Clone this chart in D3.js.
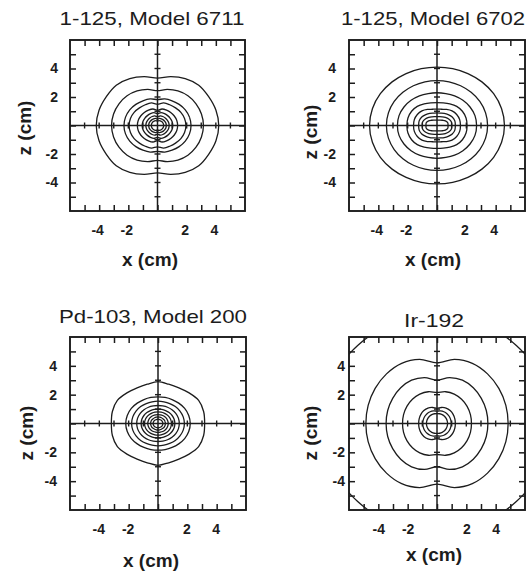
<!DOCTYPE html>
<html>
<head>
<meta charset="utf-8">
<script src="https://cdn.jsdelivr.net/npm/d3@7"></script>
<style>
body { margin: 0; background: #fff; }
svg { display: block; }
text { font-family: "Liberation Sans", Arial, Helvetica, sans-serif; fill: #1c1c1c; }
</style>
</head>
<body>
<div id="chart"></div>
<script>
// the other quadrants are mirrored
var angles = [0, 15, 30, 45, 60, 75, 90];

var titles = ["1-125, Model 6711", "1-125, Model 6702", "Pd-103, Model 200", "Ir-192"];
var tickValues = [-4, -2, 2, 4];
var gridValues = [-5, -4, -3, -2, -1, 0, 1, 2, 3, 4, 5];

// isodose contour radii (cm), one row per contour
var model6711 = [
	[4.2, 4.15, 4.05, 4.0, 3.8, 3.55, 3.33],
	[3.15, 3.12, 3.05, 2.95, 2.8, 2.62, 2.45],
	[2.3, 2.27, 2.2, 2.1, 2.0, 1.93, 1.82],
	[1.95, 1.92, 1.85, 1.75, 1.68, 1.64, 1.5],
	[1.38, 1.37, 1.33, 1.28, 1.24, 1.2, 1.06],
	[1.05, 1.04, 1.01, 0.98, 0.96, 0.93, 0.83],
	[0.8, 0.79, 0.77, 0.75, 0.73, 0.7, 0.6],
	[0.6, 0.6, 0.58, 0.56, 0.54, 0.52, 0.44],
	[0.42, 0.42, 0.41, 0.39, 0.38, 0.36, 0.3]
];
var model6702 = [
	[4.6, 4.56, 4.46, 4.33, 4.21, 4.13, 4.1],
	[3.45, 3.43, 3.37, 3.29, 3.22, 3.17, 3.15],
	[2.7, 2.68, 2.6, 2.5, 2.4, 2.32, 2.3],
	[2.05, 2.05, 2.0, 1.9, 1.75, 1.64, 1.6],
	[1.6, 1.6, 1.55, 1.45, 1.3, 1.18, 1.15],
	[1.25, 1.26, 1.2, 1.08, 0.98, 0.9, 0.88],
	[1.0, 1.01, 0.92, 0.8, 0.7, 0.64, 0.62],
	[0.75, 0.76, 0.66, 0.52, 0.44, 0.39, 0.38]
];
var pd103 = [
	[3.18, 3.22, 3.2, 3.0, 2.85, 2.82, 2.9],
	[2.2, 2.17, 2.1, 2.0, 1.92, 1.87, 1.85],
	[1.8, 1.78, 1.73, 1.67, 1.6, 1.56, 1.55],
	[1.45, 1.44, 1.4, 1.35, 1.3, 1.26, 1.25],
	[1.15, 1.14, 1.11, 1.07, 1.03, 1.01, 1.0],
	[0.92, 0.91, 0.89, 0.86, 0.83, 0.81, 0.8],
	[0.7, 0.69, 0.68, 0.66, 0.64, 0.62, 0.62],
	[0.5, 0.5, 0.49, 0.47, 0.46, 0.45, 0.45],
	[0.33, 0.33, 0.32, 0.31, 0.3, 0.3, 0.3]
];
var ir192 = [
	[7.8, 7.8, 7.75, 7.65, 7.6, 7.55, 7.4],
	[4.85, 4.86, 4.87, 4.87, 4.82, 4.6, 4.2],
	[3.47, 3.48, 3.49, 3.5, 3.47, 3.3, 3.0],
	[2.35, 2.36, 2.37, 2.37, 2.35, 2.28, 2.15],
	[1.25, 1.26, 1.27, 1.27, 1.24, 1.15, 1.05],
	[0.97, 0.97, 0.97, 0.96, 0.94, 0.9, 0.86],
	[0.72, 0.72, 0.72, 0.72, 0.71, 0.7, 0.69]
];

var contours = [model6711, model6702, pd103, ir192];

// where each panel sits on the page
var layout = [
	{x0: 70, x1: 245, y0: 40, y1: 211, titleX: 152, titleY: 25, titleW: 185, labX: 150, labY: 266, zX: 24, zY: 128, gap: 12, dx: -2},
	{x0: 349, x1: 525, y0: 40, y1: 211, titleX: 433, titleY: 25, titleW: 184, labX: 433, labY: 266, zX: 310, zY: 132, gap: 13, dx: -2},
	{x0: 70, x1: 246, y0: 337, y1: 510, titleX: 153, titleY: 323, titleW: 188, labX: 151, labY: 567, zX: 26, zY: 433, gap: 13, dx: -1},
	{x0: 349, x1: 525, y0: 337, y1: 510, titleX: 434, titleY: 327, titleW: 60, labX: 434, labY: 561, zX: 310, zY: 433, gap: 4, dx: 0}
];

var ink = "#1c1c1c";

var svg = d3.select("#chart").append("svg")
	.attr("width", 531).attr("height", 578);

function contourPoints(r) {
	var pts = [];
	var push = function (deg, rad) {
		var a = deg * Math.PI / 180;
		pts.push([rad * Math.cos(a), rad * Math.sin(a)]);
	};
	var i;
	for (i = 0; i < angles.length; i++) push(angles[i], r[i]);
	for (i = angles.length - 2; i >= 0; i--) push(180 - angles[i], r[i]);
	for (i = 1; i < angles.length; i++) push(180 + angles[i], r[i]);
	for (i = angles.length - 2; i >= 1; i--) push(360 - angles[i], r[i]);
	return pts;
}

layout.forEach(function (L, p) {
	var xs = d3.scaleLinear().domain([-6, 6]).range([L.x0, L.x1]);
	var zs = d3.scaleLinear().domain([-6, 6]).range([L.y1, L.y0]);
	var g = svg.append("g").attr("class", "panel");

	g.append("clipPath").attr("id", "clip" + p)
		.append("rect")
		.attr("x", L.x0).attr("y", L.y0)
		.attr("width", L.x1 - L.x0).attr("height", L.y1 - L.y0);

	// contours
	var line = d3.line()
		.x(function (d) { return xs(d[0]); })
		.y(function (d) { return zs(d[1]); })
		.curve(d3.curveCatmullRomClosed.alpha(0.5));
	g.append("g").attr("clip-path", "url(#clip" + p + ")")
		.selectAll("path").data(contours[p]).enter().append("path")
		.attr("d", function (r) { return line(contourPoints(r)); })
		.attr("fill", "none").attr("stroke", ink).attr("stroke-width", 1.3);

	// cross through the source centre
	g.append("line").attr("x1", L.x0).attr("x2", L.x1)
		.attr("y1", zs(0)).attr("y2", zs(0))
		.attr("stroke", ink).attr("stroke-width", 1.5);
	g.append("line").attr("x1", xs(0)).attr("x2", xs(0))
		.attr("y1", L.y0).attr("y2", L.y1)
		.attr("stroke", ink).attr("stroke-width", 1.5);
	g.selectAll("line.hx").data(gridValues.filter(function (v) { return v != 0; }))
		.enter().append("line").attr("class", "hx")
		.attr("x1", function (v) { return xs(v); }).attr("x2", function (v) { return xs(v); })
		.attr("y1", zs(0) - 3).attr("y2", zs(0) + 3)
		.attr("stroke", ink).attr("stroke-width", 1.4);
	g.selectAll("line.vz").data(gridValues.filter(function (v) { return v != 0; }))
		.enter().append("line").attr("class", "vz")
		.attr("y1", function (v) { return zs(v); }).attr("y2", function (v) { return zs(v); })
		.attr("x1", xs(0) - 3).attr("x2", xs(0) + 3)
		.attr("stroke", ink).attr("stroke-width", 1.4);

	// inward ticks on all four sides of the frame
	var sides = [
		{ax: d3.axisBottom(xs), tr: "translate(0," + L.y0 + ")"},
		{ax: d3.axisTop(xs), tr: "translate(0," + L.y1 + ")"},
		{ax: d3.axisRight(zs), tr: "translate(" + L.x0 + ",0)"},
		{ax: d3.axisLeft(zs), tr: "translate(" + L.x1 + ",0)"}
	];
	sides.forEach(function (s) {
		var a = g.append("g").attr("transform", s.tr)
			.call(s.ax.tickValues(gridValues).tickSize(6).tickFormat(""));
		a.select(".domain").remove();
		a.selectAll("line").attr("stroke", ink).attr("stroke-width", 1.5);
	});

	g.append("rect")
		.attr("x", L.x0).attr("y", L.y0)
		.attr("width", L.x1 - L.x0).attr("height", L.y1 - L.y0)
		.attr("fill", "none").attr("stroke", ink).attr("stroke-width", 1.9);

	// tick labels
	var yl = g.append("g").attr("transform", "translate(" + L.x0 + ",0)")
		.call(d3.axisLeft(zs).tickValues(tickValues).tickSize(0).tickPadding(L.gap)
			.tickFormat(function (d) { return String(d); }));
	var xl = g.append("g").attr("transform", "translate(" + L.dx + "," + L.y1 + ")")
		.call(d3.axisBottom(xs).tickValues(tickValues).tickSize(0).tickPadding(14)
			.tickFormat(function (d) { return String(d); }));
	[yl, xl].forEach(function (a) {
		a.select(".domain").remove();
		a.attr("font-family", null).attr("font-size", null);
		a.selectAll("text").attr("font-size", 14).attr("font-weight", "bold").attr("fill", ink);
	});

	// titles and axis names
	g.append("text")
		.attr("x", L.titleX).attr("y", L.titleY)
		.attr("text-anchor", "middle").attr("font-size", 19)
		.attr("textLength", L.titleW).attr("lengthAdjust", "spacingAndGlyphs")
		.text(titles[p]);
	g.append("text")
		.attr("x", L.labX).attr("y", L.labY)
		.attr("text-anchor", "middle").attr("font-size", 19).attr("font-weight", "bold")
		.text("x (cm)");
	g.append("text")
		.attr("transform", "translate(" + L.zX + "," + L.zY + ") rotate(-90)")
		.attr("text-anchor", "middle").attr("dy", "0.35em")
		.attr("font-size", 19).attr("font-weight", "bold")
		.text("z (cm)");
});
</script>
</body>
</html>
